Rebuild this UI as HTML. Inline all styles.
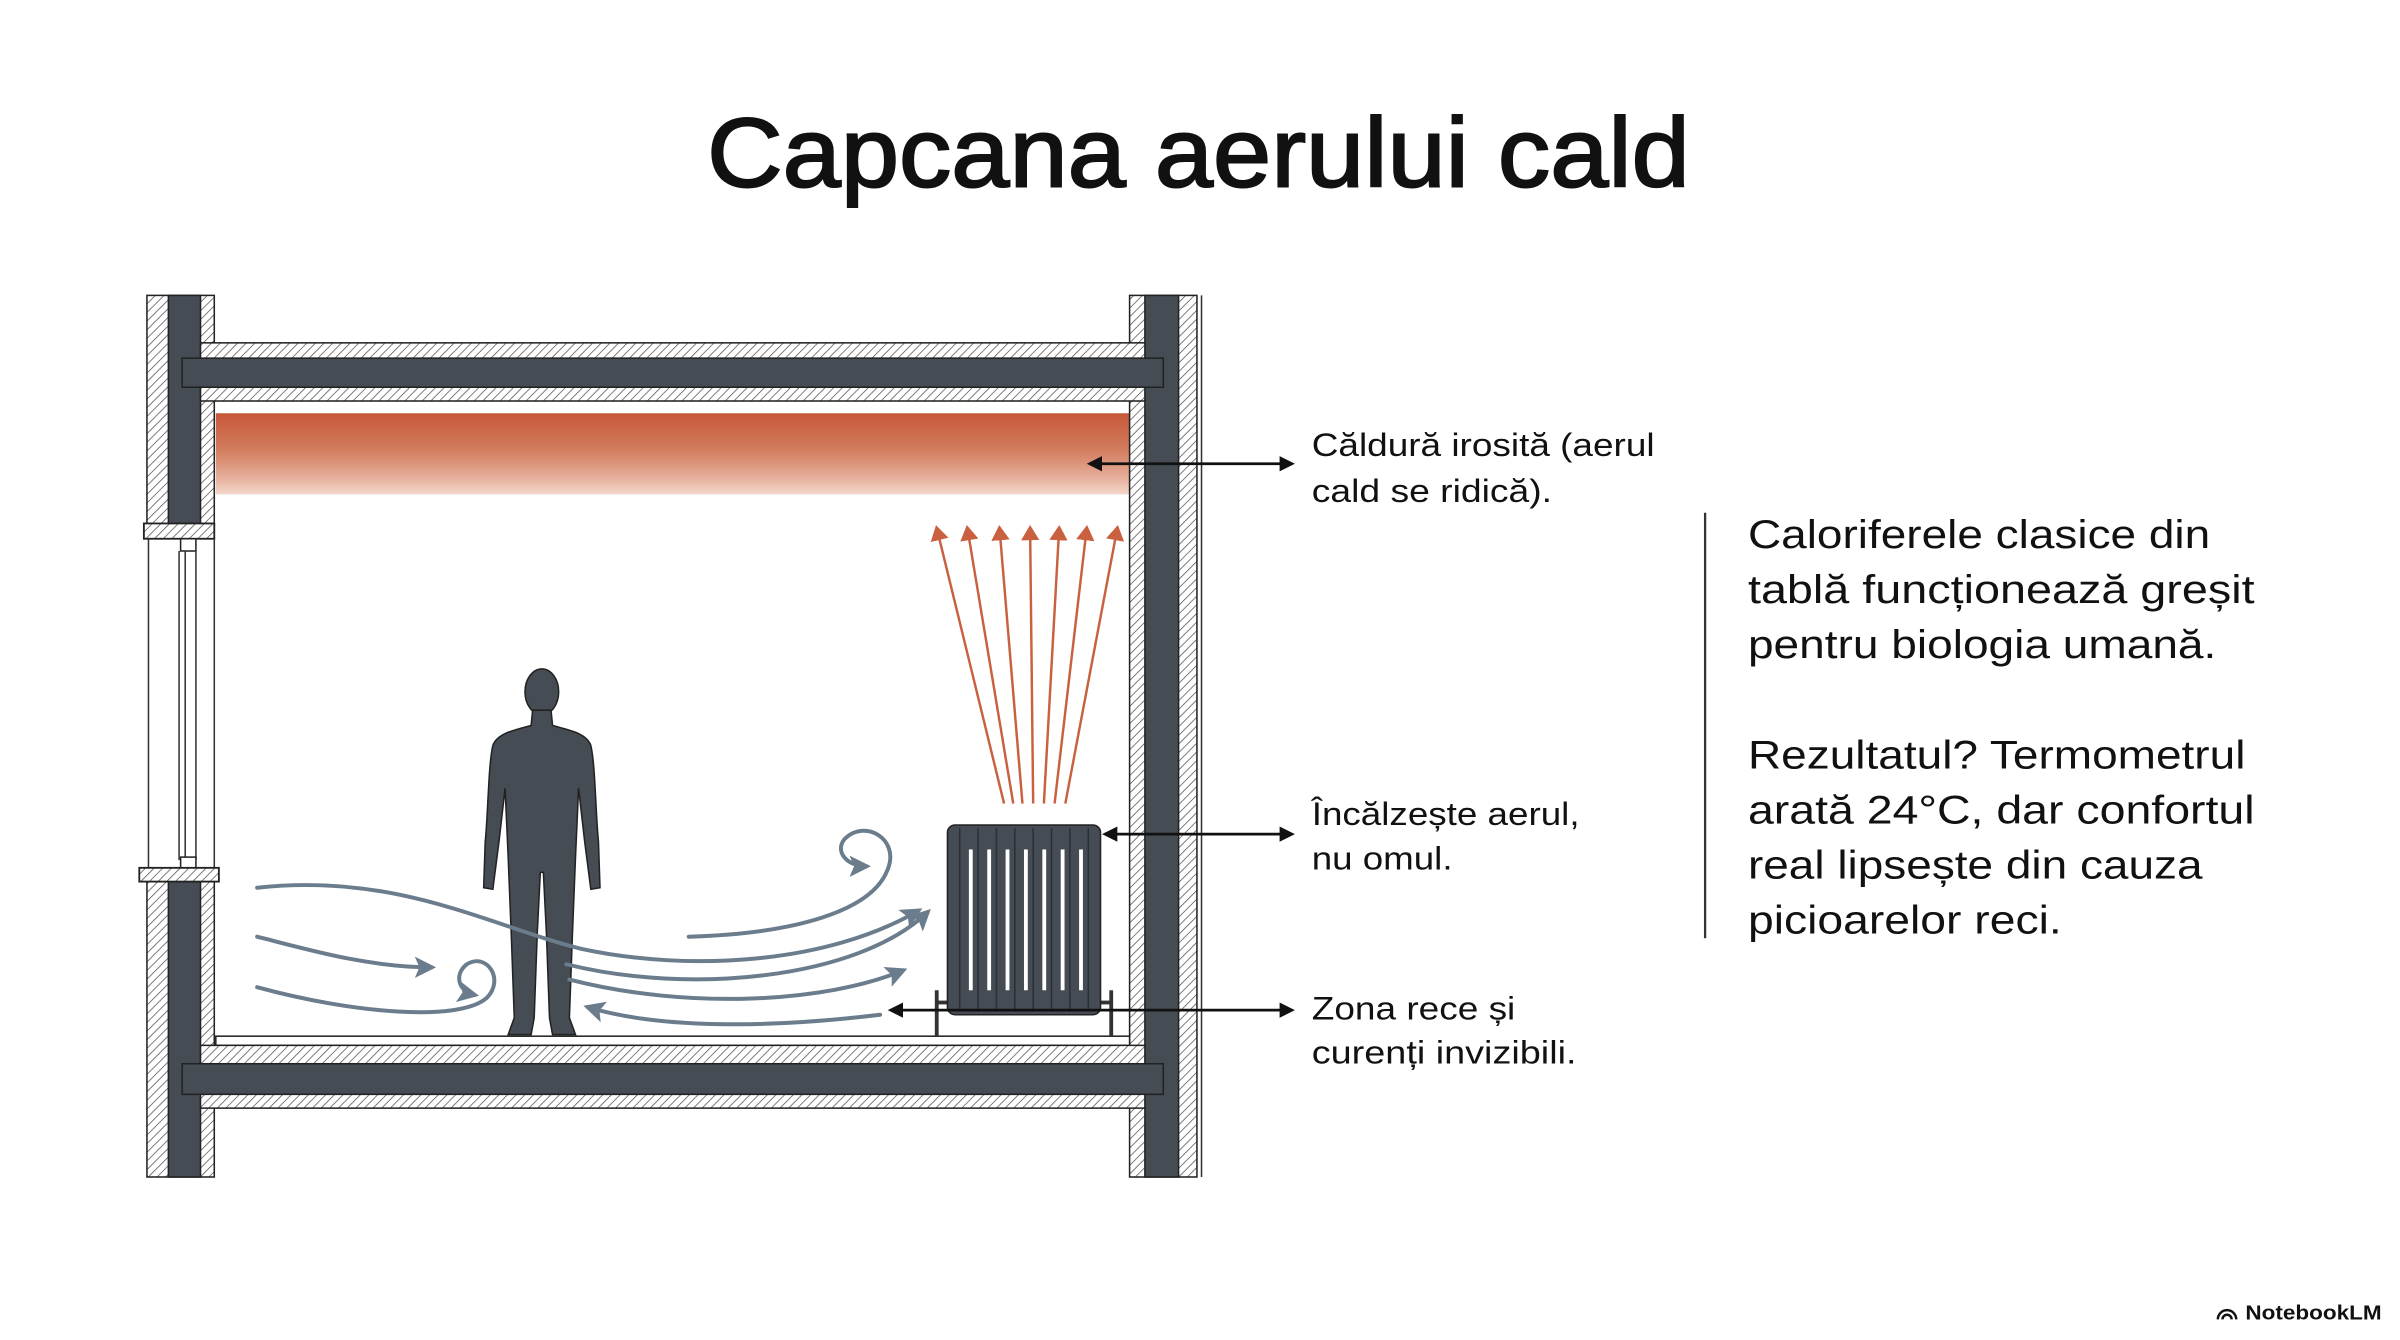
<!DOCTYPE html>
<html><head><meta charset="utf-8"><style>
html,body{margin:0;padding:0;background:#fff;}
svg{display:block;}
text{font-family:"Liberation Sans",sans-serif;fill:#111;}
</style></head><body>
<svg width="2400" height="1340" viewBox="0 0 1568 875.5" preserveAspectRatio="none" xmlns="http://www.w3.org/2000/svg">
<defs>
<pattern id="h" width="4" height="4" patternUnits="userSpaceOnUse" patternTransform="rotate(45)">
<rect width="4" height="4" fill="#fff"/><line x1="0" y1="0" x2="0" y2="4" stroke="#555" stroke-width="1"/>
</pattern>
<linearGradient id="heat" x1="0" y1="0" x2="0" y2="1">
<stop offset="0" stop-color="#c8583a"/><stop offset="0.45" stop-color="#d27c5e"/><stop offset="0.8" stop-color="#e6b09c"/><stop offset="1" stop-color="#f4d8cc"/>
</linearGradient>
<marker id="ab" markerWidth="10" markerHeight="10" refX="8" refY="5" orient="auto" markerUnits="userSpaceOnUse"><path d="M0,0 L10,5 L0,10 Z" fill="#111"/></marker>
<marker id="ab2" markerWidth="10" markerHeight="10" refX="2" refY="5" orient="auto" markerUnits="userSpaceOnUse"><path d="M10,0 L0,5 L10,10 Z" fill="#111"/></marker>
<marker id="ar" markerWidth="10" markerHeight="12" refX="8" refY="6" orient="auto" markerUnits="userSpaceOnUse"><path d="M0,0 L10,6 L0,12 Z" fill="#c9603f"/></marker>
<marker id="ag" markerWidth="14" markerHeight="14" refX="11" refY="7" orient="auto" markerUnits="userSpaceOnUse"><path d="M0,0 L14,7 L0,14 L3,7 Z" fill="#6b7d8c"/></marker>
</defs>

<text x="783" y="122" font-size="64" text-anchor="middle" textLength="642" lengthAdjust="spacingAndGlyphs" stroke="#111" stroke-width="1.3">Capcana aerului cald</text>

<!-- heat band -->
<rect x="141" y="270" width="597" height="53" fill="url(#heat)"/>

<!-- left wall upper -->
<rect x="96" y="193" width="44" height="150" fill="url(#h)" stroke="#222" stroke-width="1"/>
<rect x="110" y="193" width="21" height="150" fill="#454c54" stroke="#222" stroke-width="1"/>
<!-- left wall lower -->
<rect x="96" y="572" width="44" height="197" fill="url(#h)" stroke="#222" stroke-width="1"/>
<rect x="110" y="572" width="21" height="197" fill="#454c54" stroke="#222" stroke-width="1"/>
<!-- right wall -->
<rect x="738" y="193" width="44" height="576" fill="url(#h)" stroke="#222" stroke-width="1"/>
<rect x="748" y="193" width="22" height="576" fill="#454c54" stroke="#222" stroke-width="1"/>
<line x1="785" y1="193" x2="785" y2="769" stroke="#333" stroke-width="1"/>

<!-- ceiling slab -->
<rect x="131" y="224" width="617" height="38" fill="url(#h)" stroke="#222" stroke-width="1"/>
<rect x="119" y="234" width="641" height="19" fill="#454c54" stroke="#222" stroke-width="1"/>
<!-- floor slab -->
<rect x="141" y="677" width="597" height="6" fill="#fff" stroke="#222" stroke-width="1"/>
<rect x="131" y="683" width="617" height="41" fill="url(#h)" stroke="#222" stroke-width="1"/>
<rect x="119" y="695" width="641" height="20" fill="#454c54" stroke="#222" stroke-width="1"/>

<!-- window -->
<rect x="94" y="342" width="46" height="10" fill="url(#h)" stroke="#222" stroke-width="1.2"/>
<rect x="118" y="352" width="10" height="8" fill="#fff" stroke="#222" stroke-width="1"/>
<line x1="97" y1="352" x2="97" y2="568" stroke="#333" stroke-width="1"/>
<line x1="117" y1="360" x2="117" y2="562" stroke="#333" stroke-width="1"/>
<line x1="121" y1="360" x2="121" y2="562" stroke="#333" stroke-width="1"/>
<line x1="128" y1="360" x2="128" y2="562" stroke="#333" stroke-width="1"/>
<line x1="140" y1="352" x2="140" y2="572" stroke="#333" stroke-width="1"/>
<rect x="118" y="560" width="10" height="7" fill="#fff" stroke="#222" stroke-width="1"/>
<rect x="91" y="567" width="52" height="9" fill="url(#h)" stroke="#222" stroke-width="1.2"/>

<!-- red rising arrows -->
<g stroke="#c9603f" stroke-width="1.6" fill="none" marker-end="url(#ar)">
<line x1="656" y1="525" x2="612" y2="345"/>
<line x1="662" y1="525" x2="632" y2="345"/>
<line x1="668" y1="525" x2="653" y2="345"/>
<line x1="675" y1="525" x2="673" y2="345"/>
<line x1="682" y1="525" x2="692" y2="345"/>
<line x1="689" y1="525" x2="710" y2="345"/>
<line x1="696" y1="525" x2="730" y2="345"/>
</g>

<!-- person -->
<g fill="#454c54" stroke="#222" stroke-width="1">
<ellipse cx="354" cy="452" rx="11" ry="15"/>
<path d="M348,464 L360,464 L361,474 C372,477 383,479 386,487 C389,500 389,530 391,550 L392,580 L386,581 L382,550 L378,515 L376,560 L374,610 L372,665 L376,676 L361,676 L359,665 L357,610 L355,570 L353,570 L351,610 L349,665 L347,676 L332,676 L336,665 L334,610 L332,560 L330,515 L326,550 L322,581 L316,580 L317,550 C319,530 319,500 322,487 C325,479 336,477 347,474 Z"/>
</g>

<!-- radiator -->
<g>
<line x1="612" y1="647" x2="612" y2="677" stroke="#333" stroke-width="2.5"/>
<line x1="726" y1="647" x2="726" y2="677" stroke="#333" stroke-width="2.5"/>
<line x1="612" y1="655" x2="622" y2="655" stroke="#333" stroke-width="2.5"/>
<line x1="716" y1="655" x2="726" y2="655" stroke="#333" stroke-width="2.5"/>
<rect x="619" y="539" width="100" height="124" rx="5" fill="#454c54" stroke="#222" stroke-width="1"/>
<g fill="#fff">
<rect x="633" y="555" width="2.5" height="92"/><rect x="645" y="555" width="2.5" height="92"/>
<rect x="657" y="555" width="2.5" height="92"/><rect x="669" y="555" width="2.5" height="92"/>
<rect x="681" y="555" width="2.5" height="92"/><rect x="693" y="555" width="2.5" height="92"/>
<rect x="705" y="555" width="2.5" height="92"/>
</g>
<g stroke="#2a2f35" stroke-width="1">
<line x1="627" y1="541" x2="627" y2="661"/><line x1="639" y1="541" x2="639" y2="661"/>
<line x1="651" y1="541" x2="651" y2="661"/><line x1="663" y1="541" x2="663" y2="661"/>
<line x1="675" y1="541" x2="675" y2="661"/><line x1="687" y1="541" x2="687" y2="661"/>
<line x1="699" y1="541" x2="699" y2="661"/><line x1="711" y1="541" x2="711" y2="661"/>
</g>
</g>

<!-- cold air flows -->
<g stroke="#6b7d8c" stroke-width="2.6" fill="none" stroke-linecap="round">
<path d="M168,580 C260,570 320,605 380,620 C450,635 540,630 600,595" marker-end="url(#ag)"/>
<path d="M168,612 C200,620 240,632 282,632" marker-end="url(#ag)"/>
<path d="M168,645 C230,662 300,668 318,652 C330,640 318,622 305,630 C296,637 300,648 310,650" marker-end="url(#ag)"/>
<path d="M450,612 C520,610 570,595 580,568 C588,548 565,535 552,548 C545,556 553,566 566,566" marker-end="url(#ag)"/>
<path d="M370,630 C450,650 560,640 606,596" marker-end="url(#ag)"/>
<path d="M372,640 C450,660 540,655 590,634" marker-end="url(#ag)"/>
<path d="M575,663 C500,672 430,672 384,658" marker-end="url(#ag)"/>
</g>

<!-- label arrows -->
<g stroke="#111" stroke-width="1.8">
<line x1="712" y1="303" x2="844" y2="303" marker-start="url(#ab2)" marker-end="url(#ab)"/>
<line x1="722" y1="545" x2="844" y2="545" marker-start="url(#ab2)" marker-end="url(#ab)"/>
<line x1="582" y1="660" x2="844" y2="660" marker-start="url(#ab2)" marker-end="url(#ab)"/>
</g>

<g font-size="21" lengthAdjust="spacingAndGlyphs">
<text x="857" y="298" textLength="224" lengthAdjust="spacingAndGlyphs">Căldură irosită (aerul</text>
<text x="857" y="328" textLength="157" lengthAdjust="spacingAndGlyphs">cald se ridică).</text>
<text x="857" y="539" textLength="175" lengthAdjust="spacingAndGlyphs">Încălzește aerul,</text>
<text x="857" y="568" textLength="92" lengthAdjust="spacingAndGlyphs">nu omul.</text>
<text x="857" y="666" textLength="133" lengthAdjust="spacingAndGlyphs">Zona rece și</text>
<text x="857" y="695" textLength="173" lengthAdjust="spacingAndGlyphs">curenți invizibili.</text>
</g>

<line x1="1114" y1="335" x2="1114" y2="613" stroke="#333" stroke-width="1.5"/>
<g font-size="26">
<text x="1142" y="358" textLength="302" lengthAdjust="spacingAndGlyphs">Caloriferele clasice din</text>
<text x="1142" y="394" textLength="331" lengthAdjust="spacingAndGlyphs">tablă funcționează greșit</text>
<text x="1142" y="430" textLength="306" lengthAdjust="spacingAndGlyphs">pentru biologia umană.</text>
<text x="1142" y="502" textLength="325" lengthAdjust="spacingAndGlyphs">Rezultatul? Termometrul</text>
<text x="1142" y="538" textLength="331" lengthAdjust="spacingAndGlyphs">arată 24°C, dar confortul</text>
<text x="1142" y="574" textLength="297" lengthAdjust="spacingAndGlyphs">real lipsește din cauza</text>
<text x="1142" y="610" textLength="205" lengthAdjust="spacingAndGlyphs">picioarelor reci.</text>
</g>

<path d="M1449,862 a6,6 0 0 1 12,0 M1452,862 a3,3 0 0 1 6,0" stroke="#111" stroke-width="1.6" fill="none"/>
<text x="1467" y="862" font-size="13" font-weight="bold" textLength="89" lengthAdjust="spacingAndGlyphs">NotebookLM</text>
</svg>
</body></html>
